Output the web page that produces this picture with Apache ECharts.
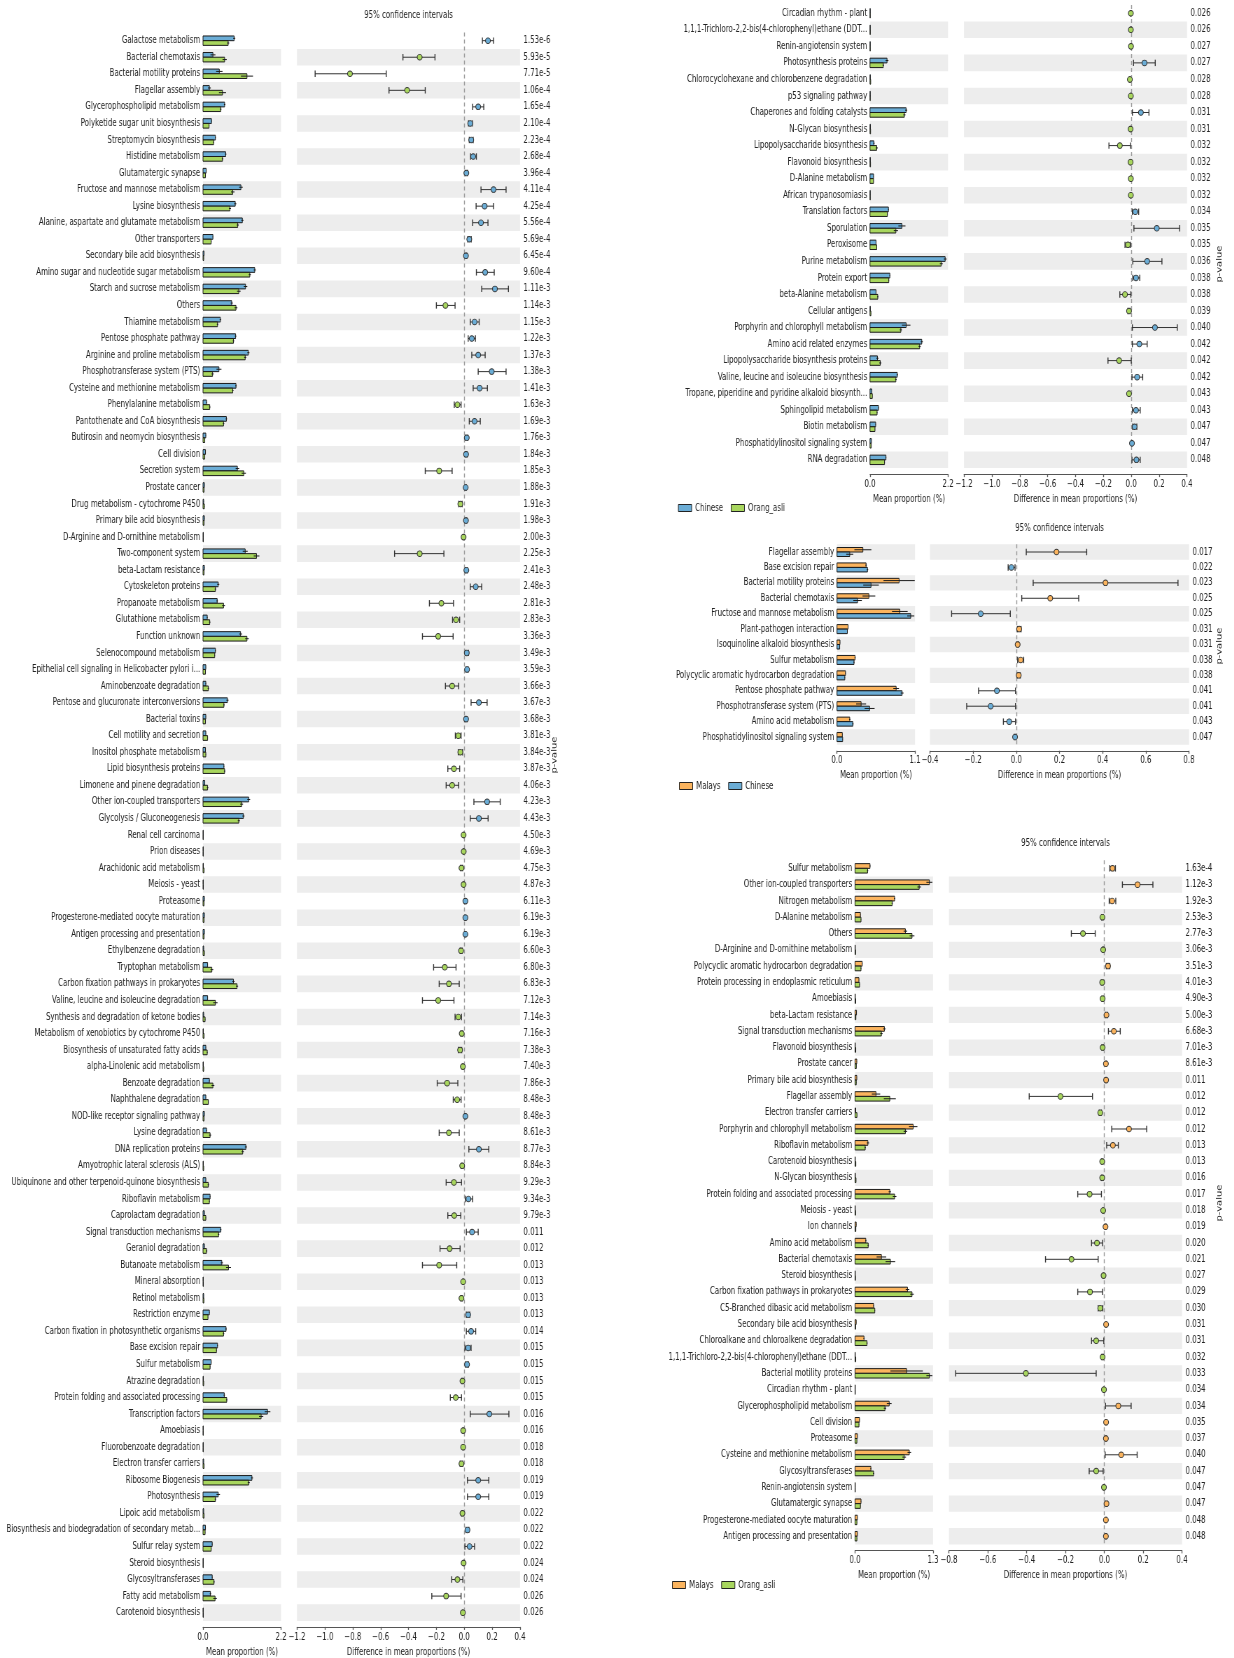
<!DOCTYPE html>
<html>
<head>
<meta charset="utf-8">
<title>Extended error bar plots of KEGG pathways</title>
<script src="https://cdn.jsdelivr.net/npm/echarts@6/dist/echarts.min.js"></script>
<style>
  html, body { margin: 0; padding: 0; background: #fff; overflow: hidden; }
  #wrap { width: 1234px; height: 1658px; overflow: hidden; position: relative; }
  /* the figure is laid out wide and compressed horizontally, like the narrow STAMP export */
  #chart { width: 1763px; height: 1658px; transform: scaleX(0.7); transform-origin: 0 0; }
</style>
</head>
<body>
<div id="wrap"><div id="chart"></div></div>
<script>
// ---------------- Chinese vs Orang_asli (first column) ----------------
const catsCO1 = [
  'Galactose metabolism','Bacterial chemotaxis','Bacterial motility proteins','Flagellar assembly','Glycerophospholipid metabolism','Polyketide sugar unit biosynthesis','Streptomycin biosynthesis','Histidine metabolism','Glutamatergic synapse','Fructose and mannose metabolism',
  'Lysine biosynthesis','Alanine, aspartate and glutamate metabolism','Other transporters','Secondary bile acid biosynthesis','Amino sugar and nucleotide sugar metabolism','Starch and sucrose metabolism','Others','Thiamine metabolism','Pentose phosphate pathway','Arginine and proline metabolism',
  'Phosphotransferase system (PTS)','Cysteine and methionine metabolism','Phenylalanine metabolism','Pantothenate and CoA biosynthesis','Butirosin and neomycin biosynthesis','Cell division','Secretion system','Prostate cancer','Drug metabolism - cytochrome P450','Primary bile acid biosynthesis',
  'D-Arginine and D-ornithine metabolism','Two-component system','beta-Lactam resistance','Cytoskeleton proteins','Propanoate metabolism','Glutathione metabolism','Function unknown','Selenocompound metabolism','Epithelial cell signaling in Helicobacter pylori i...','Aminobenzoate degradation',
  'Pentose and glucuronate interconversions','Bacterial toxins','Cell motility and secretion','Inositol phosphate metabolism','Lipid biosynthesis proteins','Limonene and pinene degradation','Other ion-coupled transporters','Glycolysis / Gluconeogenesis','Renal cell carcinoma','Prion diseases',
  'Arachidonic acid metabolism','Meiosis - yeast','Proteasome','Progesterone-mediated oocyte maturation','Antigen processing and presentation','Ethylbenzene degradation','Tryptophan metabolism','Carbon fixation pathways in prokaryotes','Valine, leucine and isoleucine degradation','Synthesis and degradation of ketone bodies',
  'Metabolism of xenobiotics by cytochrome P450','Biosynthesis of unsaturated fatty acids','alpha-Linolenic acid metabolism','Benzoate degradation','Naphthalene degradation','NOD-like receptor signaling pathway','Lysine degradation','DNA replication proteins','Amyotrophic lateral sclerosis (ALS)','Ubiquinone and other terpenoid-quinone biosynthesis',
  'Riboflavin metabolism','Caprolactam degradation','Signal transduction mechanisms','Geraniol degradation','Butanoate metabolism','Mineral absorption','Retinol metabolism','Restriction enzyme','Carbon fixation in photosynthetic organisms','Base excision repair',
  'Sulfur metabolism','Atrazine degradation','Protein folding and associated processing','Transcription factors','Amoebiasis','Fluorobenzoate degradation','Electron transfer carriers','Ribosome Biogenesis','Photosynthesis','Lipoic acid metabolism',
  'Biosynthesis and biodegradation of secondary metab...','Sulfur relay system','Steroid biosynthesis','Glycosyltransferases','Fatty acid metabolism','Carotenoid biosynthesis'
];
const pCO1 = [
  '1.53e-6','5.93e-5','7.71e-5','1.06e-4','1.65e-4','2.10e-4','2.23e-4','2.68e-4','3.96e-4','4.11e-4',
  '4.25e-4','5.56e-4','5.69e-4','6.45e-4','9.60e-4','1.11e-3','1.14e-3','1.15e-3','1.22e-3','1.37e-3',
  '1.38e-3','1.41e-3','1.63e-3','1.69e-3','1.76e-3','1.84e-3','1.85e-3','1.88e-3','1.91e-3','1.98e-3',
  '2.00e-3','2.25e-3','2.41e-3','2.48e-3','2.81e-3','2.83e-3','3.36e-3','3.49e-3','3.59e-3','3.66e-3',
  '3.67e-3','3.68e-3','3.81e-3','3.84e-3','3.87e-3','4.06e-3','4.23e-3','4.43e-3','4.50e-3','4.69e-3',
  '4.75e-3','4.87e-3','6.11e-3','6.19e-3','6.19e-3','6.60e-3','6.80e-3','6.83e-3','7.12e-3','7.14e-3',
  '7.16e-3','7.38e-3','7.40e-3','7.86e-3','8.48e-3','8.48e-3','8.61e-3','8.77e-3','8.84e-3','9.29e-3',
  '9.34e-3','9.79e-3','0.011','0.012','0.013','0.013','0.013','0.013','0.014','0.015',
  '0.015','0.015','0.015','0.016','0.016','0.018','0.018','0.019','0.019','0.022',
  '0.022','0.022','0.024','0.024','0.026','0.026'
];
const chineseCO1 = [
  0.88,0.28,0.46,0.18,0.61,0.24,0.35,0.64,0.09,1.07,
  0.91,1.11,0.28,0.03,1.46,1.20,0.81,0.49,0.92,1.28,
  0.45,0.93,0.10,0.66,0.08,0.07,0.97,0.04,0.02,0.04,
  0.01,1.19,0.04,0.43,0.40,0.12,1.06,0.35,0.08,0.08,
  0.69,0.08,0.08,0.07,0.59,0.05,1.29,1.14,0.005,0.005,
  0.01,0.006,0.04,0.04,0.04,0.02,0.13,0.86,0.13,0.02,
  0.01,0.08,0.01,0.18,0.08,0.04,0.10,1.21,0.01,0.08,
  0.20,0.04,0.50,0.04,0.53,0.005,0.02,0.18,0.65,0.41,
  0.23,0.01,0.60,1.82,0.005,0.005,0.02,1.38,0.43,0.02,
  0.07,0.26,0.005,0.26,0.21,0.005
];
const chineseSdCO1 = [
  0.03,0.07,0.09,0.04,0.02,0.01,0.01,0.02,0.005,0.05,
  0.03,0.03,0.01,0.005,0.03,0.05,0.03,0.02,0.02,0.03,
  0.07,0.02,0.01,0.02,0.005,0.005,0.05,0.005,0.005,0.005,
  0.002,0.07,0.005,0.03,0.02,0.01,0.04,0.01,0.005,0.01,
  0.03,0.005,0.005,0.005,0.01,0.005,0.04,0.03,0.001,0.001,
  0.002,0.001,0.003,0.003,0.003,0.003,0.01,0.03,0.01,0.003,
  0.002,0.005,0.002,0.01,0.005,0.003,0.01,0.03,0.002,0.005,
  0.01,0.005,0.02,0.005,0.03,0.001,0.002,0.005,0.02,0.01,
  0.01,0.002,0.02,0.08,0.001,0.001,0.002,0.03,0.05,0.002,
  0.004,0.01,0.001,0.01,0.02,0.001
];
const orangAsliCO1 = [
  0.71,0.61,1.24,0.55,0.50,0.17,0.30,0.55,0.07,0.84,
  0.76,0.98,0.23,0.02,1.32,1.01,0.93,0.41,0.86,1.19,
  0.27,0.84,0.19,0.58,0.05,0.05,1.15,0.03,0.04,0.03,
  0.01,1.51,0.03,0.35,0.58,0.19,1.24,0.33,0.07,0.15,
  0.59,0.07,0.13,0.08,0.61,0.13,1.09,1.01,0.008,0.007,
  0.03,0.01,0.03,0.03,0.03,0.04,0.25,0.96,0.35,0.06,
  0.03,0.12,0.02,0.28,0.15,0.03,0.20,1.12,0.02,0.15,
  0.18,0.08,0.44,0.10,0.72,0.01,0.025,0.14,0.58,0.38,
  0.20,0.02,0.67,1.64,0.008,0.008,0.03,1.29,0.35,0.03,
  0.06,0.23,0.008,0.31,0.34,0.01
];
const orangAsliSdCO1 = [
  0.03,0.06,0.17,0.10,0.02,0.01,0.01,0.02,0.005,0.05,
  0.03,0.03,0.01,0.005,0.03,0.05,0.04,0.02,0.02,0.03,
  0.03,0.02,0.02,0.02,0.005,0.005,0.06,0.005,0.005,0.005,
  0.002,0.08,0.005,0.02,0.04,0.02,0.05,0.01,0.005,0.02,
  0.02,0.005,0.01,0.005,0.02,0.02,0.04,0.03,0.001,0.001,
  0.003,0.001,0.003,0.003,0.003,0.004,0.04,0.03,0.06,0.008,
  0.003,0.01,0.002,0.04,0.01,0.003,0.03,0.03,0.002,0.02,
  0.01,0.01,0.02,0.02,0.07,0.001,0.002,0.005,0.02,0.01,
  0.01,0.002,0.02,0.06,0.001,0.001,0.003,0.03,0.02,0.002,
  0.004,0.01,0.001,0.02,0.05,0.001
];
const diffCO1 = [
  0.17,-0.32,-0.82,-0.41,0.10,0.043,0.05,0.064,0.015,0.21,
  0.146,0.12,0.036,0.012,0.15,0.22,-0.135,0.074,0.054,0.10,
  0.197,0.11,-0.049,0.074,0.018,0.013,-0.18,0.01,-0.028,0.012,
  -0.005,-0.32,0.015,0.082,-0.164,-0.059,-0.187,0.018,0.02,-0.087,
  0.105,0.013,-0.043,-0.028,-0.074,-0.087,0.164,0.105,-0.005,-0.004,
  -0.02,-0.005,0.008,0.008,0.008,-0.023,-0.14,-0.11,-0.187,-0.043,
  -0.018,-0.03,-0.01,-0.123,-0.051,0.008,-0.11,0.105,-0.015,-0.074,
  0.03,-0.072,0.056,-0.105,-0.18,-0.008,-0.02,0.028,0.049,0.028,
  0.02,-0.013,-0.061,0.18,-0.008,-0.008,-0.02,0.10,0.10,-0.013,
  0.023,0.038,-0.005,-0.049,-0.13,-0.01
];
const ciLowCO1 = [
  0.13,-0.44,-1.07,-0.54,0.06,0.03,0.036,0.045,0.007,0.12,
  0.085,0.06,0.025,0.006,0.087,0.125,-0.20,0.043,0.028,0.054,
  0.10,0.064,-0.072,0.036,0.01,0.006,-0.28,0.005,-0.04,0.006,
  -0.008,-0.50,0.008,0.043,-0.25,-0.084,-0.30,0.008,0.012,-0.135,
  0.049,0.006,-0.064,-0.043,-0.118,-0.13,0.069,0.043,-0.008,-0.007,
  -0.027,-0.008,0.004,0.004,0.004,-0.03,-0.22,-0.18,-0.30,-0.066,
  -0.025,-0.042,-0.014,-0.194,-0.079,0.004,-0.18,0.033,-0.02,-0.13,
  0.008,-0.118,0.015,-0.174,-0.30,-0.011,-0.025,0.015,0.015,0.005,
  0.008,-0.018,-0.10,0.043,-0.011,-0.011,-0.03,0.023,0.023,-0.018,
  0.012,0.005,-0.008,-0.09,-0.233,-0.014
];
const ciHighCO1 = [
  0.21,-0.21,-0.56,-0.28,0.14,0.058,0.064,0.087,0.023,0.30,
  0.21,0.17,0.05,0.018,0.215,0.317,-0.066,0.107,0.08,0.15,
  0.30,0.166,-0.023,0.115,0.026,0.02,-0.087,0.015,-0.015,0.018,
  -0.002,-0.146,0.022,0.125,-0.077,-0.033,-0.08,0.03,0.028,-0.04,
  0.164,0.02,-0.023,-0.012,-0.033,-0.04,0.258,0.171,-0.002,-0.002,
  -0.012,-0.002,0.012,0.012,0.012,-0.015,-0.059,-0.036,-0.074,-0.02,
  -0.011,-0.018,-0.006,-0.046,-0.023,0.012,-0.036,0.176,-0.01,-0.02,
  0.06,-0.025,0.10,-0.03,-0.054,-0.005,-0.014,0.04,0.082,0.049,
  0.03,-0.008,-0.02,0.32,-0.005,-0.005,-0.01,0.176,0.176,-0.008,
  0.033,0.074,-0.002,-0.01,-0.023,-0.006
];

// ---------------- Chinese vs Orang_asli (continued) ----------------
const catsCO2 = [
  'Circadian rhythm - plant','1,1,1-Trichloro-2,2-bis(4-chlorophenyl)ethane (DDT...','Renin-angiotensin system','Photosynthesis proteins','Chlorocyclohexane and chlorobenzene degradation','p53 signaling pathway','Chaperones and folding catalysts','N-Glycan biosynthesis','Lipopolysaccharide biosynthesis','Flavonoid biosynthesis',
  'D-Alanine metabolism','African trypanosomiasis','Translation factors','Sporulation','Peroxisome','Purine metabolism','Protein export','beta-Alanine metabolism','Cellular antigens','Porphyrin and chlorophyll metabolism',
  'Amino acid related enzymes','Lipopolysaccharide biosynthesis proteins','Valine, leucine and isoleucine biosynthesis','Tropane, piperidine and pyridine alkaloid biosynth...','Sphingolipid metabolism','Biotin metabolism','Phosphatidylinositol signaling system','RNA degradation'
];
const pCO2 = ['0.026','0.026','0.027','0.027','0.028','0.028','0.031','0.031','0.032','0.032','0.032','0.032','0.034','0.035','0.035','0.036','0.038','0.038','0.039','0.040','0.042','0.042','0.042','0.043','0.043','0.047','0.047','0.048'];
const chineseCO2 = [0.005,0.006,0.004,0.48,0.01,0.005,1.02,0.012,0.11,0.01,0.10,0.004,0.52,0.90,0.17,2.12,0.56,0.17,0.01,1.02,1.46,0.21,0.77,0.05,0.24,0.16,0.04,0.45];
const chineseSdCO2 = [0.001,0.001,0.001,0.04,0.002,0.001,0.03,0.002,0.02,0.002,0.004,0.001,0.01,0.10,0.005,0.04,0.01,0.01,0.002,0.12,0.03,0.03,0.02,0.003,0.01,0.005,0.002,0.01];
const orangAsliCO2 = [0.007,0.009,0.006,0.375,0.02,0.008,0.97,0.017,0.19,0.015,0.10,0.007,0.49,0.73,0.19,2.01,0.53,0.22,0.026,0.87,1.40,0.29,0.73,0.066,0.20,0.14,0.035,0.41];
const orangAsliSdCO2 = [0.001,0.001,0.001,0.02,0.002,0.001,0.03,0.002,0.03,0.002,0.004,0.001,0.01,0.06,0.005,0.04,0.01,0.02,0.003,0.03,0.03,0.03,0.02,0.003,0.01,0.005,0.002,0.01];
const diffCO2 = [-0.003,-0.003,-0.002,0.095,-0.01,-0.003,0.069,-0.005,-0.082,-0.005,-0.003,-0.003,0.029,0.183,-0.024,0.114,0.034,-0.045,-0.016,0.17,0.058,-0.087,0.042,-0.016,0.034,0.024,0.005,0.037];
const ciLowCO2 = [-0.006,-0.006,-0.004,0.016,-0.014,-0.005,0.008,-0.008,-0.16,-0.008,-0.006,-0.005,0.008,0.019,-0.045,0.011,0.011,-0.082,-0.024,0.008,0.008,-0.167,0.005,-0.022,0.008,0.01,0.002,0.005];
const ciHighCO2 = [-0.001,-0.001,-0.001,0.172,-0.005,-0.001,0.127,-0.002,-0.005,-0.002,0.0,-0.001,0.053,0.347,-0.005,0.22,0.061,-0.003,-0.008,0.33,0.114,0.0,0.082,-0.01,0.064,0.04,0.008,0.064];

// ---------------- Malays vs Chinese ----------------
const catsMC = ['Flagellar assembly','Base excision repair','Bacterial motility proteins','Bacterial chemotaxis','Fructose and mannose metabolism','Plant-pathogen interaction','Isoquinoline alkaloid biosynthesis','Sulfur metabolism','Polycyclic aromatic hydrocarbon degradation','Pentose phosphate pathway','Phosphotransferase system (PTS)','Amino acid metabolism','Phosphatidylinositol signaling system'];
const pMC = ['0.017','0.022','0.023','0.025','0.025','0.031','0.031','0.038','0.038','0.041','0.041','0.043','0.047'];
const malaysMC = [0.365,0.41,0.876,0.45,0.886,0.156,0.042,0.255,0.12,0.834,0.34,0.18,0.075];
const malaysSdMC = [0.12,0.01,0.22,0.09,0.11,0.005,0.002,0.008,0.004,0.04,0.07,0.01,0.003];
const chineseMC = [0.18,0.43,0.48,0.29,1.04,0.146,0.038,0.24,0.11,0.918,0.46,0.224,0.08];
const chineseSdMC = [0.05,0.01,0.11,0.06,0.05,0.005,0.002,0.008,0.004,0.02,0.07,0.01,0.003];
const diffMC = [0.186,-0.023,0.413,0.157,-0.165,0.013,0.006,0.02,0.011,-0.09,-0.119,-0.033,-0.006];
const ciLowMC = [0.046,-0.038,0.078,0.025,-0.30,0.005,0.002,0.006,0.004,-0.175,-0.23,-0.06,-0.01];
const ciHighMC = [0.326,-0.006,0.749,0.289,-0.028,0.022,0.01,0.034,0.018,-0.004,-0.004,-0.004,-0.002];

// ---------------- Malays vs Orang_asli ----------------
const catsMO = [
  'Sulfur metabolism','Other ion-coupled transporters','Nitrogen metabolism','D-Alanine metabolism','Others','D-Arginine and D-ornithine metabolism','Polycyclic aromatic hydrocarbon degradation','Protein processing in endoplasmic reticulum','Amoebiasis','beta-Lactam resistance',
  'Signal transduction mechanisms','Flavonoid biosynthesis','Prostate cancer','Primary bile acid biosynthesis','Flagellar assembly','Electron transfer carriers','Porphyrin and chlorophyll metabolism','Riboflavin metabolism','Carotenoid biosynthesis','N-Glycan biosynthesis',
  'Protein folding and associated processing','Meiosis - yeast','Ion channels','Amino acid metabolism','Bacterial chemotaxis','Steroid biosynthesis','Carbon fixation pathways in prokaryotes','C5-Branched dibasic acid metabolism','Secondary bile acid biosynthesis','Chloroalkane and chloroalkene degradation',
  '1,1,1-Trichloro-2,2-bis(4-chlorophenyl)ethane (DDT...','Bacterial motility proteins','Circadian rhythm - plant','Glycerophospholipid metabolism','Cell division','Proteasome','Cysteine and methionine metabolism','Glycosyltransferases','Renin-angiotensin system','Glutamatergic synapse',
  'Progesterone-mediated oocyte maturation','Antigen processing and presentation'
];
const pMO = ['1.63e-4','1.12e-3','1.92e-3','2.53e-3','2.77e-3','3.06e-3','3.51e-3','4.01e-3','4.90e-3','5.00e-3','6.68e-3','7.01e-3','8.61e-3','0.011','0.012','0.012','0.012','0.013','0.013','0.016','0.017','0.018','0.019','0.020','0.021','0.027','0.029','0.030','0.031','0.031','0.032','0.033','0.034','0.034','0.035','0.037','0.040','0.047','0.047','0.047','0.048','0.048'];
const malaysMO = [0.25,1.24,0.66,0.09,0.84,0.004,0.12,0.065,0.003,0.025, 0.49,0.004,0.03,0.03,0.35,0.012,0.97,0.215,0.003,0.006, 0.58,0.004,0.02,0.18,0.44,0.004,0.875,0.31,0.02,0.15, 0.004,0.86,0.003,0.57,0.075,0.04,0.905,0.265,0.003,0.10, 0.04,0.04];
const malaysSdMO = [0.01,0.05,0.01,0.003,0.03,0.001,0.005,0.003,0.001,0.002, 0.02,0.001,0.002,0.002,0.07,0.002,0.07,0.02,0.001,0.001, 0.02,0.001,0.002,0.01,0.08,0.001,0.03,0.005,0.002,0.01, 0.001,0.27,0.001,0.04,0.003,0.002,0.03,0.01,0.001,0.004, 0.002,0.002];
const orangAsliMO = [0.21,1.07,0.62,0.10,0.95,0.01,0.10,0.076,0.012,0.015, 0.44,0.013,0.022,0.021,0.58,0.033,0.84,0.17,0.014,0.017, 0.66,0.01,0.014,0.22,0.59,0.008,0.95,0.33,0.011,0.20, 0.013,1.24,0.005,0.50,0.066,0.032,0.82,0.31,0.005,0.09, 0.032,0.032];
const orangAsliSdMO = [0.01,0.03,0.01,0.003,0.04,0.001,0.005,0.003,0.002,0.002, 0.02,0.002,0.002,0.002,0.10,0.003,0.03,0.01,0.002,0.002, 0.03,0.001,0.002,0.01,0.08,0.001,0.03,0.005,0.002,0.01, 0.002,0.05,0.001,0.02,0.003,0.002,0.03,0.01,0.001,0.004, 0.002,0.002];
const diffMO = [0.042,0.171,0.04,-0.01,-0.11,-0.006,0.019,-0.011,-0.009,0.011, 0.049,-0.009,0.008,0.009,-0.226,-0.021,0.127,0.044,-0.011,-0.011, -0.076,-0.006,0.006,-0.038,-0.169,-0.004,-0.074,-0.021,0.009,-0.042, -0.009,-0.404,-0.002,0.072,0.009,0.008,0.087,-0.042,-0.002,0.011, 0.008,0.008];
const ciLowMO = [0.028,0.093,0.025,-0.014,-0.17,-0.009,0.01,-0.016,-0.013,0.006, 0.021,-0.013,0.005,0.005,-0.387,-0.027,0.038,0.012,-0.015,-0.015, -0.137,-0.009,0.003,-0.066,-0.303,-0.006,-0.137,-0.032,0.005,-0.066, -0.013,-0.766,-0.004,0.006,0.005,0.005,0.004,-0.078,-0.004,0.006, 0.005,0.005];
const ciHighMO = [0.057,0.25,0.059,-0.006,-0.047,-0.003,0.028,-0.006,-0.005,0.016, 0.082,-0.005,0.011,0.012,-0.061,-0.015,0.218,0.072,-0.007,-0.007, -0.015,-0.003,0.009,-0.009,-0.032,-0.002,-0.009,-0.008,0.012,-0.003, -0.005,-0.042,-0.001,0.138,0.013,0.011,0.169,-0.006,-0.001,0.016, 0.011,0.011];

// ---------------- drawing ----------------
const K = 0.7;                  // horizontal compression applied to #chart
const sx = v => v / K;          // page x (px) -> chart x (px)
const FONT = 'DejaVu Sans';
const INK = '#222222';
const SHADE = '#ededed';
const groupColor = { Chinese: '#6badd6', Orang_asli: '#a8d65e', Malays: '#fbb45e' };

const panels = [
  { cats: catsCO1, p: pCO1, ga: 'Chinese', gb: 'Orang_asli', ma: chineseCO1, sa: chineseSdCO1, mb: orangAsliCO1, sb: orangAsliSdCO1,
    d: diffCO1, lo: ciLowCO1, hi: ciHighCO1,
    top: 32.4, rowH: 16.547, barL: 203, barW: 78, barMax: 2.2, ciL: 297, ciW: 223, ciMin: -1.2, ciMax: 0.4,
    shadeFirst: false, barH: 4.7, headerY: 15.3, pvalY: 755 },
  { cats: catsCO2, p: pCO2, ga: 'Chinese', gb: 'Orang_asli', ma: chineseCO2, sa: chineseSdCO2, mb: orangAsliCO2, sb: orangAsliSdCO2,
    d: diffCO2, lo: ciLowCO2, hi: ciHighCO2,
    top: 5.0, rowH: 16.54, barL: 870, barW: 78, barMax: 2.2, ciL: 964, ciW: 223, ciMin: -1.2, ciMax: 0.4,
    shadeFirst: false, barH: 4.7, headerY: null, pvalY: 264, legend: { left: 678, top: 503 } },
  { cats: catsMC, p: pMC, ga: 'Malays', gb: 'Chinese', ma: malaysMC, sa: malaysSdMC, mb: chineseMC, sb: chineseSdMC,
    d: diffMC, lo: ciLowMC, hi: ciHighMC,
    top: 544.3, rowH: 15.42, barL: 837, barW: 78, barMax: 1.1, ciL: 930, ciW: 259, ciMin: -0.4, ciMax: 0.8,
    shadeFirst: true, barH: 4.5, headerY: 528, pvalY: 646, legend: { left: 679, top: 781 } },
  { cats: catsMO, p: pMO, ga: 'Malays', gb: 'Orang_asli', ma: malaysMO, sa: malaysSdMO, mb: orangAsliMO, sb: orangAsliSdMO,
    d: diffMO, lo: ciLowMO, hi: ciHighMO,
    top: 860.2, rowH: 16.29, barL: 855, barW: 78, barMax: 1.3, ciL: 949, ciW: 233, ciMin: -0.8, ciMax: 0.4,
    shadeFirst: false, barH: 4.7, headerY: 843.3, pvalY: 1203, legend: { left: 672, top: 1580 } }
];

function signedLabel(v) {
  if (Math.abs(v) < 1e-9) return '0.0';
  return (v < 0 ? '\u2212' : '') + Math.abs(v).toFixed(1);
}

// mean-proportion bar with its standard-deviation whisker; slot 0 sits above the row centre, slot 1 below
function barRenderer(slot, h) {
  return function (params, api) {
    const m = api.value(0), r = api.value(1), s = api.value(2);
    const base = api.coord([0, r]);
    const end = api.coord([m, r]);
    const y = slot === 0 ? base[1] - h : base[1];
    const eL = api.coord([Math.max(0, m - s), r]);
    const eR = api.coord([m + s, r]);
    const ym = y + h / 2;
    return {
      type: 'group',
      children: [
        { type: 'rect', shape: { x: base[0], y: y, width: Math.max(end[0] - base[0], 0.4), height: h },
          style: { fill: api.visual('color'), stroke: '#1a1a1a', lineWidth: 1 } },
        { type: 'line', shape: { x1: eL[0], y1: ym, x2: eR[0], y2: ym },
          style: { stroke: '#1a1a1a', lineWidth: 1 } }
      ]
    };
  };
}

// difference in mean proportions with its 95% confidence interval
function ciRenderer(colA, colB) {
  return function (params, api) {
    const d = api.value(0), r = api.value(1);
    const c = api.coord([d, r]);
    const a = api.coord([api.value(2), r]);
    const b = api.coord([api.value(3), r]);
    const cap = 3.2, y = c[1];
    return {
      type: 'group',
      children: [
        { type: 'line', shape: { x1: a[0], y1: y, x2: b[0], y2: y }, style: { stroke: '#333', lineWidth: 1 } },
        { type: 'line', shape: { x1: a[0], y1: y - cap, x2: a[0], y2: y + cap }, style: { stroke: '#333', lineWidth: 1.4 } },
        { type: 'line', shape: { x1: b[0], y1: y - cap, x2: b[0], y2: y + cap }, style: { stroke: '#333', lineWidth: 1.4 } },
        { type: 'circle', x: c[0], y: y, scaleX: 1.25, shape: { cx: 0, cy: 0, r: 2.8 },
          style: { fill: d >= 0 ? colA : colB, stroke: '#333', lineWidth: 0.9 } }
      ]
    };
  };
}

const grid = [], xAxis = [], yAxis = [], series = [], legend = [], graphic = [];
const axisLineStyle = { color: '#555', width: 1 };
const labelStyle = { fontSize: 10, color: INK, fontFamily: FONT };

panels.forEach((P, i) => {
  const n = P.cats.length;
  const h = n * P.rowH;
  const bandColors = P.shadeFirst ? [SHADE, 'rgba(255,255,255,0)'] : ['rgba(255,255,255,0)', SHADE];
  const gBar = 2 * i, gCi = 2 * i + 1;

  grid.push({ left: sx(P.barL), width: sx(P.barW), top: P.top, height: h, outerBoundsMode: 'none', containLabel: false });
  grid.push({ left: sx(P.ciL), width: sx(P.ciW), top: P.top, height: h, outerBoundsMode: 'none', containLabel: false });

  xAxis.push({
    type: 'value', gridIndex: gBar, min: 0, max: P.barMax, interval: P.barMax, offset: 6,
    axisLine: { show: true, onZero: false, lineStyle: axisLineStyle },
    axisTick: { show: true, length: 3, lineStyle: { color: '#555', width: 1.3 } },
    axisLabel: Object.assign({ margin: 5, formatter: v => v.toFixed(1) }, labelStyle),
    splitLine: { show: false },
    name: 'Mean proportion (%)', nameLocation: 'middle', nameGap: 20, nameTextStyle: labelStyle
  });
  xAxis.push({
    type: 'value', gridIndex: gCi, min: P.ciMin, max: P.ciMax, interval: 0.2, offset: 6,
    axisLine: { show: true, onZero: false, lineStyle: axisLineStyle },
    axisTick: { show: true, length: 3, lineStyle: { color: '#555', width: 1.3 } },
    axisLabel: Object.assign({ margin: 5, formatter: signedLabel }, labelStyle),
    splitLine: { show: false },
    name: 'Difference in mean proportions (%)', nameLocation: 'middle', nameGap: 20, nameTextStyle: labelStyle
  });

  yAxis.push({
    type: 'category', gridIndex: gBar, data: P.cats, inverse: true,
    axisLine: { show: false }, axisTick: { show: false },
    axisLabel: Object.assign({ interval: 0, margin: 4 }, labelStyle),
    splitLine: { show: false },
    splitArea: { show: true, interval: 0, areaStyle: { color: bandColors } }
  });
  yAxis.push({
    type: 'category', gridIndex: gCi, data: P.cats, inverse: true, position: 'right',
    axisLine: { show: false }, axisTick: { show: false },
    axisLabel: Object.assign({ interval: 0, margin: 5, formatter: (v, idx) => P.p[idx] }, labelStyle),
    splitLine: { show: false },
    splitArea: { show: true, interval: 0, areaStyle: { color: bandColors } }
  });

  series.push({
    type: 'custom', name: P.ga, xAxisIndex: gBar, yAxisIndex: gBar, z: 3, silent: true,
    itemStyle: { color: groupColor[P.ga] },
    encode: { x: 0, y: 1 },
    renderItem: barRenderer(0, P.barH),
    data: P.cats.map((c, r) => [P.ma[r], r, P.sa[r]])
  });
  series.push({
    type: 'custom', name: P.gb, xAxisIndex: gBar, yAxisIndex: gBar, z: 3, silent: true,
    itemStyle: { color: groupColor[P.gb] },
    encode: { x: 0, y: 1 },
    renderItem: barRenderer(1, P.barH),
    data: P.cats.map((c, r) => [P.mb[r], r, P.sb[r]])
  });
  series.push({
    type: 'custom', name: 'ci-' + i, xAxisIndex: gCi, yAxisIndex: gCi, z: 4, silent: true,
    encode: { x: 0, y: 1 },
    renderItem: ciRenderer(groupColor[P.ga], groupColor[P.gb]),
    data: P.cats.map((c, r) => [P.d[r], r, P.lo[r], P.hi[r]]),
    markLine: {
      silent: true, z: 1, symbol: ['none', 'none'], animation: false,
      label: { show: false },
      lineStyle: { type: [4, 3], color: '#999', width: 1.4 },
      data: [{ xAxis: 0 }]
    }
  });

  if (P.headerY !== null) {
    graphic.push({
      type: 'text', x: sx(P.ciL + P.ciW / 2), y: P.headerY, silent: true,
      style: { text: '95% confidence intervals', fill: INK, fontSize: 10, fontFamily: FONT,
               align: 'center', verticalAlign: 'middle' }
    });
  }
  graphic.push({
    type: 'text', x: sx(1220), y: P.pvalY, rotation: Math.PI / 2, silent: true,
    style: { text: 'p-value', fill: INK, fontSize: 10, fontFamily: FONT, align: 'center', verticalAlign: 'middle' }
  });

  if (P.legend) {
    legend.push({
      left: sx(P.legend.left), top: P.legend.top, padding: 0, orient: 'horizontal',
      icon: 'rect', itemWidth: 19, itemHeight: 7, itemGap: 11, selectedMode: false,
      itemStyle: { borderColor: '#222', borderWidth: 1 },
      textStyle: labelStyle,
      data: [P.ga, P.gb]
    });
  }
});
// the first column's p-value label sits beside its own p-value column
graphic[1].x = sx(555);

const chart = echarts.init(document.getElementById('chart'), null, { renderer: 'canvas', width: 1763, height: 1658 });
chart.setOption({
  animation: false,
  backgroundColor: '#ffffff',
  textStyle: { fontFamily: FONT, color: INK },
  grid, xAxis, yAxis, series, legend, graphic
});
</script>
</body>
</html>
